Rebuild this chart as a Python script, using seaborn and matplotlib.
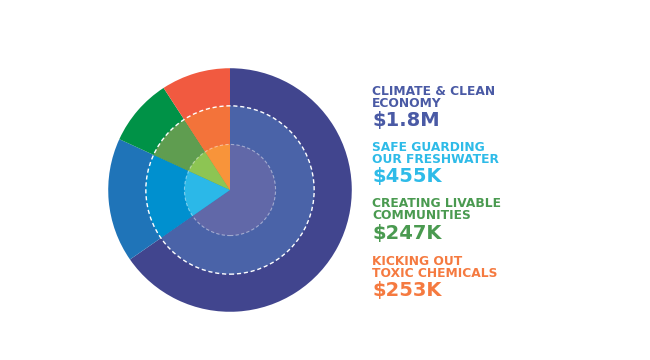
import matplotlib
matplotlib.use("Agg")
import matplotlib.pyplot as plt
import seaborn as sns
from matplotlib.patches import Circle

sns.set_theme(style="white")
plt.rcParams['font.family'] = ['DejaVu Sans']

categories = ["CLIMATE & CLEAN\nECONOMY", "SAFE GUARDING\nOUR FRESHWATER",
              "CREATING LIVABLE\nCOMMUNITIES", "KICKING OUT\nTOXIC CHEMICALS"]
value_labels = ["$1.8M", "$455K", "$247K", "$253K"]
values = [1800, 455, 247, 253]

outer_colors = ["#41458e", "#1f74b8", "#009247", "#f15a40"]
middle_colors = ["#4a63a8", "#0090cf", "#5f9d50", "#f3733a"]
inner_colors = ["#6168a8", "#2bb8e8", "#8dc553", "#f8943a"]
text_colors = ["#4a5aa5", "#2ebbe8", "#4a9a50", "#f57a40"]

W, H = 650, 360
fig = plt.figure(figsize=(6.5, 3.6), dpi=100)
fig.patch.set_facecolor("white")

cx, cy, R = 230, 190, 123
ax = fig.add_axes([(cx - R) / W, (H - cy - R) / H, 2 * R / W, 2 * R / H])
ax.set_aspect("equal")
ax.axis("off")

r_mid = 85 / R
r_in = 46 / R
for radius, cols in [(1.0, outer_colors), (r_mid, middle_colors), (r_in, inner_colors)]:
    ax.pie(values, colors=cols, radius=radius, startangle=90, counterclock=False,
           wedgeprops=dict(linewidth=0))

ax.add_patch(Circle((0, 0), r_mid, fill=False, edgecolor="white", linewidth=1.0,
                    linestyle=(0, (3, 2)), zorder=5))
ax.add_patch(Circle((0, 0), r_in, fill=False, edgecolor="white", linewidth=0.8,
                    alpha=0.45, linestyle=(0, (3, 2)), zorder=5))
ax.set_xlim(-1.01, 1.01)
ax.set_ylim(-1.01, 1.01)

# text block
baselines = [(95, 107, 126), (151, 163, 182), (207, 219, 239), (265, 277, 296)]
tx = 372
for cat, val, col, (b1, b2, b3) in zip(categories, value_labels, text_colors, baselines):
    l1, l2 = cat.split("\n")
    fig.text(tx / W, (H - b1) / H, l1, color=col, fontsize=8.8, fontweight="bold",
             va="baseline", ha="left")
    fig.text(tx / W, (H - b2) / H, l2, color=col, fontsize=8.8, fontweight="bold",
             va="baseline", ha="left")
    fig.text(tx / W, (H - b3) / H, val, color=col, fontsize=14, fontweight="bold",
             va="baseline", ha="left")

fig.savefig("out.png", dpi=100, facecolor="white")
